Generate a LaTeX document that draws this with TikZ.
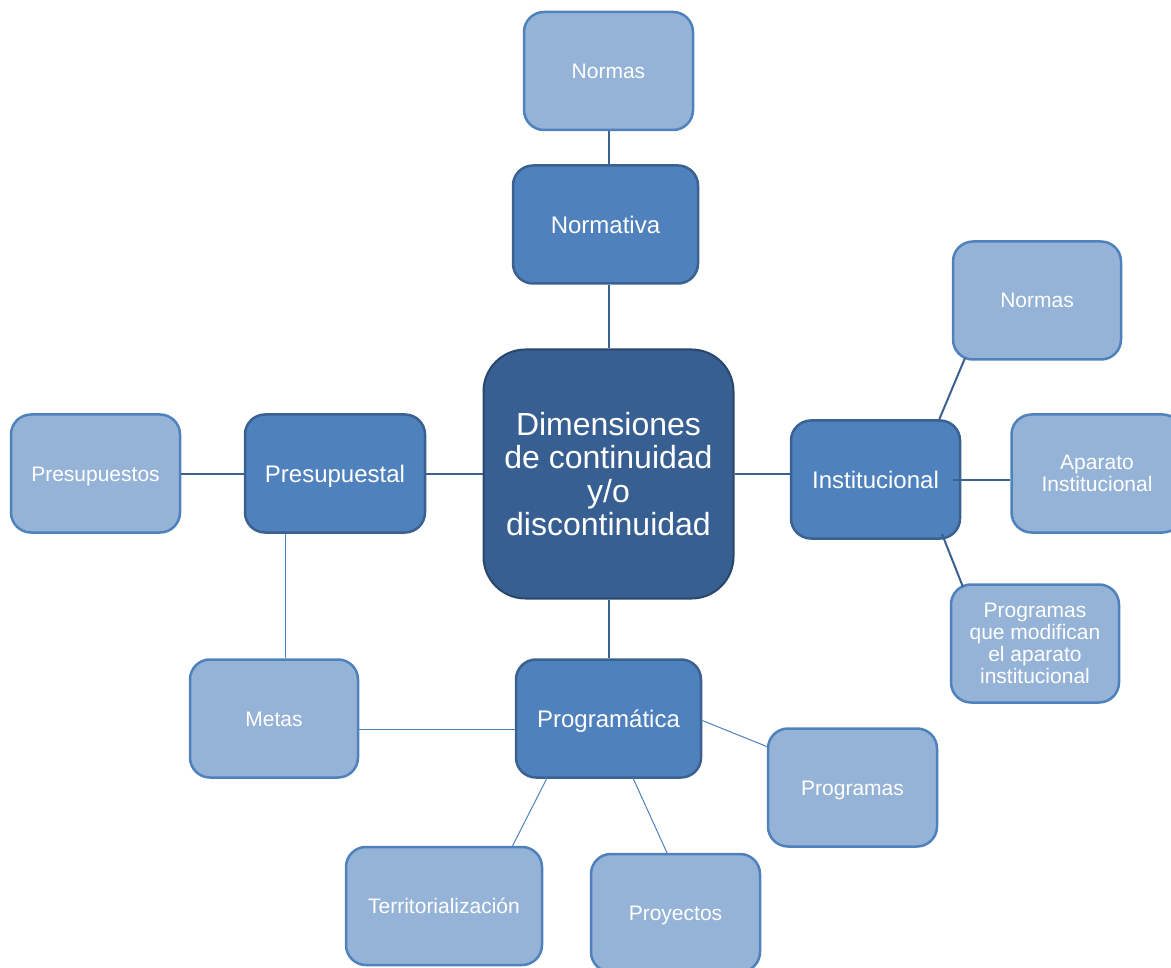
\documentclass[tikz,border=0pt]{standalone}
\usepackage{fontspec}
\setmainfont{Liberation Sans}
\usetikzlibrary{calc}
\definecolor{cfill}{HTML}{375F92}
\definecolor{cdraw}{HTML}{29466B}
\definecolor{midfill}{HTML}{4F81BD}
\definecolor{middraw}{HTML}{3A6190}
\definecolor{leaffill}{HTML}{95B3D7}
\definecolor{leafdraw}{HTML}{4F81BD}
\definecolor{linedark}{HTML}{3A6190}
\begin{document}
\begin{tikzpicture}[x=1pt,y=-1pt,
  box/.style={rectangle, rounded corners=20pt, inner sep=0pt, text=white, align=center},
  leaf/.style={box, fill=leaffill, draw=leafdraw, line width=2.5pt, minimum width=168pt, minimum height=118pt, font=\fontsize{21}{22}\selectfont},
  leafone/.style={leaf, text height=15pt, text depth=0pt},
  mid/.style={box, fill=midfill, draw=middraw, line width=2.5pt, minimum height=118pt, font=\fontsize{24}{26}\selectfont, text height=17.2pt, text depth=0pt},
  hub/.style={box, rounded corners=42pt, fill=cfill, draw=cdraw, line width=2pt, minimum width=250pt, minimum height=249pt, font=\fontsize{32}{33.5}\selectfont},
  bond/.style={draw=linedark, line width=2pt},
  twig/.style={draw=leafdraw, line width=1pt}]
\useasboundingbox (0,0) rectangle (1171,968);

% nodes
\node[hub] (hub) at (608.5,474) {Dimensiones\\de continuidad\\y/o\\discontinuidad};
\node[mid, minimum width=185pt] (normativa) at (605.5,224.5) {Normativa};
\node[mid, minimum width=180pt] (presupuestal) at (335,473.5) {Presupuestal};
\node[mid, minimum width=169pt] (institucional) at (875.5,479.5) {Institucional};
\node[mid, minimum width=185pt] (programatica) at (608.5,718.5) {Programática};

\node[leafone, minimum width=169pt] (normasT) at (608.5,71) {Normas};
\node[leafone, minimum width=169pt] (presupuestos) at (95.5,473.5) {Presupuestos};
\node[leafone] (normasR) at (1037,300.5) {Normas};
\node[leaf, minimum width=171pt] (aparato) at (1097,473.5) {Aparato\\Institucional};
\node[leaf] (programasQ) at (1035,643.5) {Programas\\que modifican\\el aparato\\institucional};
\node[leafone] (metas) at (274,718.5) {Metas};
\node[leafone, minimum width=169pt] (programas) at (852.5,787.5) {Programas};
\node[leafone, minimum width=196pt] (territorio) at (444,906) {Territorialización};
\node[leafone, minimum width=169pt] (proyectos) at (675.5,913) {Proyectos};

% thick connectors
\draw[bond] (normasT.south) -- (normasT.south |- normativa.north);
\draw[bond] (hub.north |- normativa.south) -- (hub.north);
\draw[bond] (hub.west) -- (hub.west -| presupuestal.east);
\draw[bond] (presupuestos.east) -- (presupuestal.west);
\draw[bond] (hub.east) -- (hub.east -| institucional.west);
\draw[bond] ($(institucional.center)+(63.5,-59.5)$) -- ($(normasR.center)+(-72,57.5)$);
\draw[bond] ($(institucional.center)+(77.5,0)$) -- (institucional.center -| aparato.west);
\draw[bond] ($(institucional.center)+(66.5,54.5)$) -- ($(programasQ.center)+(-72,-56.5)$);
\draw[bond] (hub.south) -- (hub.south |- programatica.north);

% thin connectors
\draw[twig] ($(presupuestal.south)+(-50,0)$) -- ($(metas.north)+(11,0)$);
\draw[twig] ($(metas.east)+(0,10.5)$) -- ($(programatica.west)+(0,10.5)$);
\draw[twig] ($(programatica.center)+(-61.5,59.5)$) -- ($(territorio.center)+(68,-59)$);
\draw[twig] ($(programatica.center)+(24.5,59.5)$) -- ($(proyectos.center)+(-8,-59)$);
\draw[twig] ($(programatica.center)+(92.5,1.5)$) -- ($(programas.center)+(-84.5,-40.5)$);
\end{tikzpicture}
\end{document}
